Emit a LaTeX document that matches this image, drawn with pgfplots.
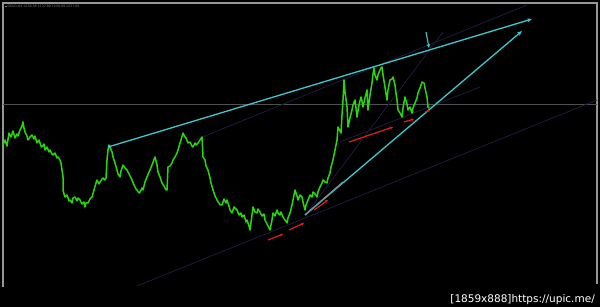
\documentclass[border=0pt]{standalone}
\usepackage{pgfplots}
\pgfplotsset{compat=1.18}
\usepackage{fontspec}
\setmainfont{DejaVu Sans}
\usetikzlibrary{arrows.meta}
\definecolor{pricegreen}{RGB}{40,215,10}
\definecolor{trendcyan}{RGB}{60,200,205}
\definecolor{faintnavy}{RGB}{28,30,62}
\definecolor{arrowred}{RGB}{225,30,30}
\definecolor{framegray}{RGB}{150,150,150}
\definecolor{levelgray}{RGB}{80,80,80}
\begin{document}
\begin{tikzpicture}
\begin{axis}[
  width=600pt, height=307pt, scale only axis,
  xmin=0, xmax=600, ymin=0, ymax=307, y dir=reverse,
  hide axis, clip=true,
]
% background
\addplot[fill=black, draw=none] coordinates {(0,0) (600,0) (600,307) (0,307) (0,0)};
% frame
\addplot[framegray, line width=1.3pt] coordinates {(3,287) (3,3) (597,3) (597,284)};
% horizontal price level
\addplot[levelgray, line width=0.7pt] coordinates {(3,104.5) (597,104.5)};
% faint navy lines
\addplot[faintnavy, line width=0.8pt] coordinates {(137,286) (597,100)};
\addplot[faintnavy, line width=0.8pt] coordinates {(195,140) (527,5)};
\addplot[faintnavy, line width=0.8pt] coordinates {(307,213) (443,32)};
\addplot[faintnavy, line width=0.8pt] coordinates {(340,142) (480,87)};
% price series
\addplot[pricegreen, line width=1.5pt, line join=round] coordinates {
(3,145)(5,140)(7,146)(9,133)(11,137)(13,131)(15,138)(17,134)(18,136)(20,130)(22,126)(23,122)(24,128)(25,132)(27,136)(28,140)(30,137)(32,135)(34,139)(35,136)(37,143)(39,140)(41,146)(42,147)(44,144)(45,150)(47,147)(49,152)(50,150)(52,154)(53,155)(55,153)(57,158)(58,157)(60,160)(61,163)(62,170)(63,177)(63,185)(63,190)(64,194)(65,197)(67,195)(69,201)(70,200)(72,203)(73,198)(75,197)(77,201)(78,198)(80,200)(82,204)(84,202)(85,207)(86,203)(88,203)(90,199)(92,197)(94,190)(96,183)(97,180)(99,184)(100,182)(102,179)(103,178)(105,180)(106,178)(107,160)(108,150)(109,145)(110,147)(112,152)(113,157)(115,163)(117,170)(118,174)(120,177)(121,171)(123,165)(125,168)(127,170)(129,174)(131,178)(132,180)(134,185)(136,189)(137,190)(139,193)(140,192)(142,188)(143,190)(145,182)(147,177)(149,172)(150,170)
(152,165)(155,157)(157,165)(158,172)(160,177)(162,183)(164,186)(166,190)(167,190)(168,167)(170,166)(172,163)(173,160)(175,157)(177,153)(178,150)(180,143)(181,140)(183,133)(185,137)(186,138)(188,143)(190,142)(192,146)(193,147)(195,143)(196,145)(198,143)(200,140)(202,137)(203,157)(205,160)(206,166)(208,170)(210,178)(211,183)(213,190)(215,196)(217,200)(219,203)(220,205)(222,205)(224,199)(226,203)(227,200)(229,206)(230,210)(232,213)(234,207)(235,208)(237,210)(239,215)(241,213)(242,217)(244,215)(246,222)(247,220)(249,226)(250,230)(252,215)(253,207)(255,212)(257,213)(258,209)(260,212)(262,216)(264,214)(265,220)(267,224)(269,228)(270,230)(272,220)(273,213)(275,216)(277,210)(278,213)(280,215)(281,212)(283,217)(285,220)(287,223)(288,218)(290,213)(292,205)(294,195)(295,190)(297,196)(298,200)(300,195)(302,197)(303,202)(305,210)(306,205)(308,200)(310,195)(312,197)(313,192)(315,194)(317,197)(318,192)(320,187)(322,183)(323,180)(325,182)(327,183)(328,178)(330,173)(331,167)(333,160)(335,150)(337,140)(338,127)(340,131)(341,133)(342,115)(343,100)(344,80)(345,92)(347,107)(348,127)(350,118)(352,110)(353,105)(355,100)(356,108)(357,117)(359,105)(361,97)(362,101)(363,107)(365,98)(367,90)(368,110)(370,95)(372,83)(373,74)(374,68)(375,75)(377,80)(378,75)(380,70)(381,68)(382,67)(383,75)(385,87)(386,94)(387,100)(388,90)(390,80)(392,79)(393,77)(395,85)(396,93)(397,100)(398,110)(400,113)(402,117)(403,108)(405,97)(407,104)(408,110)(410,107)(412,113)(413,108)(415,103)(417,98)(418,93)(420,88)(422,82)(424,83)(425,88)(427,97)(428,107)(429,108)
};
% cyan trend lines
\addplot[trendcyan, line width=1.3pt, -{Stealth[length=5pt,width=4pt]}] coordinates {(108,147) (532,19)};
\addplot[trendcyan, line width=1.3pt, -{Stealth[length=5pt,width=4pt]}] coordinates {(305,215) (522,31)};
\addplot[gray!70!trendcyan, line width=1.3pt] coordinates {(305,215) (343,182)};
\addplot[trendcyan, line width=1.1pt, -{Stealth[length=4pt,width=3.5pt]}] coordinates {(426,32) (429,48)};
% red arrows
\addplot[arrowred, line width=1.2pt, -{Stealth[length=3pt,width=3pt]}] coordinates {(268,240) (283,234)};
\addplot[arrowred, line width=1.2pt, -{Stealth[length=3pt,width=3pt]}] coordinates {(289,230) (304,223)};
\addplot[arrowred, line width=1.2pt, -{Stealth[length=3pt,width=3pt]}] coordinates {(314,210) (328,200)};
\addplot[arrowred, line width=1.2pt, -{Stealth[length=3pt,width=3pt]}] coordinates {(349,142) (393,127)};
\addplot[arrowred, line width=1.2pt, -{Stealth[length=3pt,width=3pt]}] coordinates {(404,122) (414,119)};
\addplot[arrowred, line width=1.2pt, -{Stealth[length=2.5pt,width=2.5pt]}] coordinates {(425,112) (430,110.5)};
% texts
\node[anchor=west, text=gray, font=\fontsize{3.2}{4}\selectfont, inner sep=0pt] at (axis cs:5,6.5) {\rule{1.5pt}{1.5pt} GOLD,H4 1238.38 1237.09 1238.09 1237.09};
\node[anchor=base east, text=white, font=\fontsize{10.5}{12}\selectfont, inner sep=0pt] at (axis cs:595,302) {[1859x888]https://upic.me/};
\end{axis}
\end{tikzpicture}
\end{document}
